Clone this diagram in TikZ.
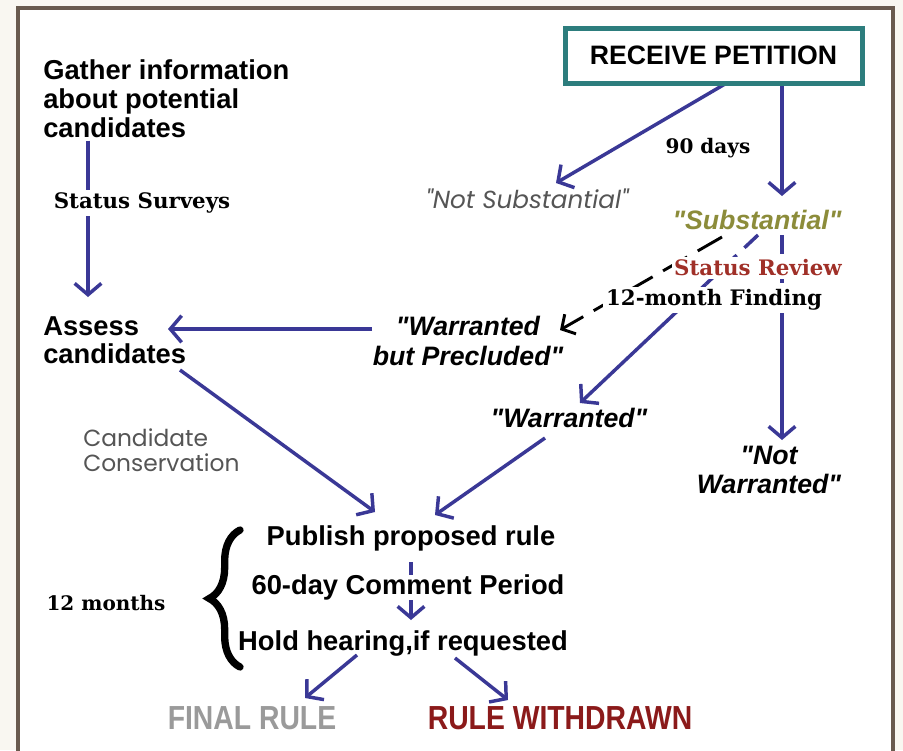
\documentclass[tikz,border=0pt]{standalone}
\usepackage{fontspec}
\newfontfamily\hv{Liberation Sans}
\newfontfamily\srf{DejaVu Serif}
\newfontfamily\geo{Poppins}
\newfontfamily\cnd[FakeStretch=0.85]{Liberation Sans}
\usetikzlibrary{arrows.meta,calc,decorations.pathreplacing}
\pgfdeclarelayer{bg}
\pgfsetlayers{bg,main}
\definecolor{arrowblue}{RGB}{58,56,150}
\definecolor{framebrown}{RGB}{105,90,78}
\definecolor{tealbox}{RGB}{45,125,125}
\definecolor{olive}{RGB}{140,140,58}
\definecolor{revred}{RGB}{160,48,40}
\definecolor{wdred}{RGB}{139,26,26}
\definecolor{finalgray}{RGB}{154,154,154}
\definecolor{cream}{RGB}{249,247,241}
\definecolor{ccgray}{RGB}{85,85,85}
\tikzset{
  arr/.style={draw=arrowblue, line width=2.6pt, -{Straight Barb[length=8.5pt,width=20pt]}},
  bline/.style={draw=arrowblue, line width=2.6pt},
  bdash/.style={draw=arrowblue, line width=2.6pt, dash pattern=on 14pt off 8pt},
  kdash/.style={draw=black, line width=2.2pt, dash pattern=on 21pt off 9pt, -{Straight Barb[length=7.5pt,width=17pt]}},
  sansb/.style={font=\hv\bfseries\fontsize{20.5}{22}\selectfont, inner sep=1pt},
  quotebi/.style={font=\hv\bfseries\itshape\fontsize{20}{22}\selectfont, align=center, inner sep=1pt},
  serifb/.style={font=\srf\bfseries\fontsize{16}{18}\selectfont, inner sep=2pt},
  outcome/.style={font=\cnd\bfseries\fontsize{25}{26}\selectfont, inner sep=1pt},
}
\begin{document}
\begin{tikzpicture}[x=0.75pt,y=-0.75pt]
\useasboundingbox (0,0) rectangle (903,750);

% nodes
\node[draw=tealbox, line width=3.75pt, fill=white, minimum width={297*0.75pt}, minimum height={55*0.75pt},
      font=\hv\bfseries\fontsize{20}{22}\selectfont] (petition) at (713.5,55.5) {RECEIVE PETITION};
\node[anchor=north west, align=left, inner sep=0pt, font=\hv\bfseries\fontsize{20.5}{21.75}\selectfont]
      (gather) at (43,59) {Gather information\\about potential\\candidates};
\node[serifb, fill=white] (surveys) at (142,203) {Status Surveys};
\node[anchor=north west, align=left, inner sep=0pt, font=\hv\bfseries\fontsize{20.5}{21}\selectfont]
      (assess) at (43,316) {Assess\\candidates};
\node[anchor=west, align=left, font=\geo\fontsize{17.5}{19}\selectfont, text=ccgray, inner sep=0pt]
      (cc) at (83,450) {Candidate\\Conservation};
\node[font=\geo\itshape\fontsize{18.5}{20}\selectfont, text=ccgray] (notsub) at (527,199) {"Not Substantial"};
\node[serifb, font=\srf\bfseries\fontsize{15}{18}\selectfont] (days) at (708,148) {90 days};
\node[quotebi, text=olive] (sub) at (757,220) {"Substantial"};
\node[serifb, fill=white, text=revred] (statrev) at (758,268) {Status Review};
\node[serifb, fill=white] (finding) at (714,300) {12-month Finding};
\node[quotebi] (wbp) at (468,341) {"Warranted\\but Precluded"};
\node[quotebi] (warr) at (569,418) {"Warranted"};
\node[quotebi] (notwarr) at (769,470) {"Not\\Warranted"};
\node[sansb] (publish) at (411,538) {Publish proposed rule};
\node[sansb] (comment) at (408,587) {60-day Comment Period};
\node[sansb] (hearing) at (403,643) {Hold hearing,if requested};
\node[serifb, font=\srf\bfseries\fontsize{15}{18}\selectfont] (twelve) at (106,603) {12 months};
\node[outcome, text=finalgray] (final) at (252,718) {FINAL RULE};
\node[outcome, text=wdred] (withdrawn) at (560,718) {RULE WITHDRAWN};

\begin{pgfonlayer}{bg}
\fill[cream] (0,0) rectangle (903,750);
\draw[framebrown, line width=2.5pt, fill=white] (18,8) rectangle (893,770);
% connectors
\draw[arr] ($(gather.south west)+(45,3)$) -- ($(assess.north west)+(45,-19)$);
\draw[arr] ($(wbp.center)+(-96,-12)$) -- ($(assess.north west)+(125,13)$);
\draw[arr] ($(assess.north west)+(137,54)$) -- ($(publish.center)+(-36,-26)$);
\draw[arr] ($(petition.center)+(11.5,28.5)$) -- ($(notsub.center)+(29,-16)$);
\draw[arr] ($(petition.center)+(68.5,28.5)$) -- ($(sub.center)+(25,-24)$);
\draw[kdash] ($(sub.center)+(-35,17)$) -- ($(wbp.center)+(92,-11)$);
\draw[bdash] ($(sub.center)+(1,15)$) -- ($(finding.center)+(-8,-16)$);
\draw[arr] ($(finding.center)+(-8,-16)$) -- ($(warr.center)+(11,-15)$);
\draw[bdash] ($(sub.center)+(25,15)$) -- ($(finding.center)+(68,-10)$);
\draw[arr] ($(finding.center)+(68,-10)$) -- ($(notwarr.center)+(13,-30)$);
\draw[arr] ($(warr.center)+(-24,20)$) -- ($(publish.center)+(24,-23)$);
\draw[bline] ($(publish.center)+(0,24)$) -- ($(comment.center)+(3,-12)$);
\draw[arr] ($(comment.center)+(3,13)$) -- ($(hearing.center)+(8,-23)$);
\draw[arr] ($(hearing.center)+(-46,12)$) -- ($(final.center)+(53,-20)$);
\draw[arr] ($(hearing.center)+(52,15)$) -- ($(withdrawn.center)+(-52,-18)$);
\end{pgfonlayer}

% brace
\draw[decorate, decoration={brace, amplitude=23pt}, line width=5.5pt, line cap=round] (240,667) -- (240,530);
\end{tikzpicture}
\end{document}
